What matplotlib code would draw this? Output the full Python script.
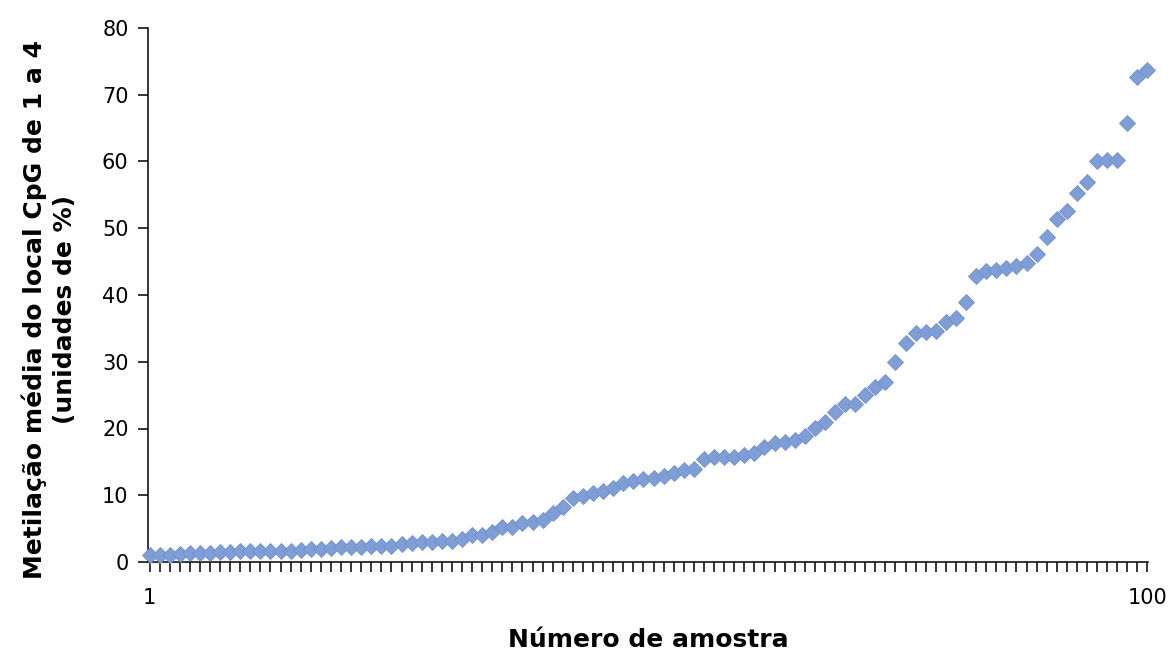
import matplotlib

matplotlib.use("Agg")

import matplotlib.pyplot as plt
import numpy as np

# Número de amostra (1..100), ordenado por metilação crescente
amostras = list(range(1, 101))

# Metilação média dos locais CpG 1 a 4 (%)
metilacao = [
    1.0, 1.1, 1.1, 1.2, 1.3, 1.3, 1.4, 1.5, 1.5, 1.6,
    1.6, 1.6, 1.6, 1.7, 1.7, 1.8, 1.9, 2.0, 2.1, 2.2,
    2.2, 2.2, 2.4, 2.4, 2.4, 2.7, 2.8, 3.0, 3.0, 3.1,
    3.2, 3.4, 4.0, 4.1, 4.5, 5.2, 5.3, 5.8, 6.0, 6.3,
    7.3, 8.2, 9.6, 9.9, 10.3, 10.6, 11.1, 11.8, 12.1, 12.5,
    12.6, 12.9, 13.3, 13.8, 13.9, 15.5, 15.7, 15.7, 15.7, 16.0,
    16.3, 17.3, 17.8, 18.0, 18.3, 18.9, 20.1, 21.0, 22.5, 23.7,
    23.7, 25.0, 26.2, 26.9, 29.9, 32.8, 34.3, 34.5, 34.6, 36.0,
    36.6, 38.9, 42.8, 43.6, 43.7, 44.0, 44.4, 44.8, 46.1, 48.7,
    51.4, 52.6, 55.3, 57.0, 60.1, 60.2, 60.2, 65.8, 72.7, 73.7,
]

rotulos_x = {1: "1", 100: "100"}
ticks_y = list(range(0, 81, 10))

plt.rcParams["font.family"] = ["DejaVu Sans"]

fig = plt.figure(figsize=(11.69, 6.52), dpi=100)
ax = fig.add_axes([148 / 1169, 90 / 652, 1000 / 1169, 534 / 652])

ax.plot(
    amostras,
    metilacao,
    linestyle="none",
    marker="D",
    markersize=8.2,
    markerfacecolor="#7F9ED6",
    markeredgecolor="#7190CB",
    markeredgewidth=0.6,
    clip_on=False,
    zorder=3,
)

ax.set_xlim(0.85, 100.05)
ax.set_ylim(0, 80)

ax.set_xticks(amostras)
ax.set_xticklabels([rotulos_x.get(a, "") for a in amostras])
ax.set_yticks(ticks_y)

ax.tick_params(axis="both", direction="out", length=7, width=1.1, color="black",
               labelsize=15, labelcolor="black")
ax.tick_params(axis="x", pad=12)
ax.tick_params(axis="y", pad=7)

for lado in ("top", "right"):
    ax.spines[lado].set_visible(False)
for lado in ("left", "bottom"):
    ax.spines[lado].set_linewidth(1.1)
    ax.spines[lado].set_color("black")

ax.set_xlabel("Número de amostra", fontsize=18, fontweight="bold", labelpad=14)
ax.set_ylabel("Metilação média do local CpG de 1 a 4\n(unidades de %)",
              fontsize=18, fontweight="bold", linespacing=1.3)
ax.yaxis.set_label_coords(-0.071, 0.472)

fig.savefig("out.png", dpi=100)
